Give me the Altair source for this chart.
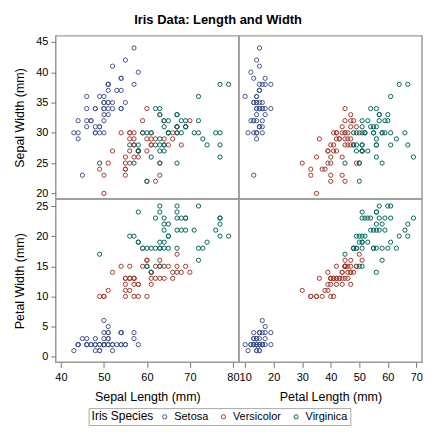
import altair as alt
import pandas as pd

species_names = ["Setosa", "Versicolor", "Virginica"]
species_colors = ["#445694", "#A23A2E", "#01665E"]

# Iris data (mm), 50 rows per species
setosa_sl = [51,49,47,46,50,54,46,50,44,49,54,48,48,43,58,57,54,51,57,51,54,51,46,51,48,50,50,52,52,47,48,54,52,55,49,50,55,49,44,51,50,45,44,50,51,48,51,46,53,50]
setosa_sw = [35,30,32,31,36,39,34,34,29,31,37,34,30,30,40,44,39,35,38,38,34,37,36,33,34,30,34,35,34,32,31,34,41,42,31,32,35,36,30,34,35,23,32,35,38,30,38,32,37,33]
setosa_pl = [14,14,13,15,14,17,14,15,14,15,15,16,14,11,12,15,13,14,17,15,17,15,10,17,19,16,16,15,14,16,16,15,15,14,15,12,13,14,13,15,13,13,13,16,19,14,16,14,15,14]
setosa_pw = [2,2,2,2,2,4,3,2,2,1,2,2,1,1,2,4,4,3,3,3,2,4,2,5,2,2,4,2,2,2,2,4,1,2,2,2,2,1,2,2,3,3,2,6,4,3,2,2,2,2]

versicolor_sl = [70,64,69,55,65,57,63,49,66,52,50,59,60,61,56,67,56,58,62,56,59,61,63,61,64,66,68,67,60,57,55,55,58,60,54,60,67,63,56,55,55,61,58,50,56,57,57,62,51,57]
versicolor_sw = [32,32,31,23,28,28,33,24,29,27,20,30,22,29,29,31,30,27,22,25,32,28,25,28,29,30,28,30,29,26,24,24,27,27,30,34,31,23,30,25,26,30,26,23,27,30,29,29,25,28]
versicolor_pl = [47,45,49,40,46,45,47,33,46,39,35,42,40,47,36,44,45,41,45,39,48,40,49,47,43,44,48,50,45,35,38,37,39,51,45,45,47,44,41,40,44,46,40,33,42,42,42,43,30,41]
versicolor_pw = [14,15,15,13,15,13,16,10,13,14,10,15,10,14,13,14,15,10,15,11,18,13,15,12,13,14,14,17,15,10,11,10,12,16,15,16,15,13,13,13,12,14,12,10,13,12,13,13,11,13]

virginica_sl = [63,58,71,63,65,76,49,73,67,72,65,64,68,57,58,64,65,77,77,60,69,56,77,63,67,72,62,61,64,72,74,79,64,63,61,77,63,64,60,69,67,69,58,68,67,67,63,65,62,59]
virginica_sw = [33,27,30,29,30,30,25,29,25,36,32,27,30,25,28,32,30,38,26,22,32,28,28,27,33,32,28,30,28,30,28,38,28,28,26,30,34,31,30,31,31,31,27,32,33,30,25,30,34,30]
virginica_pl = [60,51,59,56,58,66,45,63,58,61,51,53,55,50,51,53,55,67,69,50,57,49,67,49,57,60,48,49,56,58,61,64,56,51,56,61,56,55,48,54,56,51,51,59,57,52,50,52,54,51]
virginica_pw = [25,19,21,18,22,21,17,18,18,25,20,19,21,20,24,23,18,22,23,15,23,20,20,18,21,18,18,18,21,16,19,20,22,15,14,23,24,18,18,21,24,23,19,23,25,23,19,20,23,18]

sl_ticks = [40, 50, 60, 70, 80]
pl_ticks = [10, 20, 30, 40, 50, 60, 70]
sw_ticks = [20, 25, 30, 35, 40, 45]
pw_ticks = [0, 5, 10, 15, 20, 25]

rows = []
for name, sl, sw, pl, pw in [
    ("Setosa", setosa_sl, setosa_sw, setosa_pl, setosa_pw),
    ("Versicolor", versicolor_sl, versicolor_sw, versicolor_pl, versicolor_pw),
    ("Virginica", virginica_sl, virginica_sw, virginica_pl, virginica_pw),
]:
    for a, b, c, d in zip(sl, sw, pl, pw):
        rows.append({"Species": name, "SepalLength": a, "SepalWidth": b, "PetalLength": c, "PetalWidth": d})
df = pd.DataFrame(rows)

FONT = "Liberation Sans"
W, H = 184, 164

color = alt.Color(
    "Species:N",
    scale=alt.Scale(domain=species_names, range=species_colors),
    legend=alt.Legend(
        title="Iris Species",
        orient="none",
        legendX=33,
        legendY=374,
        direction="horizontal",
        titleOrient="left",
        titleFontWeight="normal",
        titleFontSize=12,
        titleFont=FONT,
        titleColor="#000",
        labelFont=FONT,
        labelFontSize=11,
        labelColor="#000",
        symbolType="circle",
        symbolSize=18,
        symbolStrokeWidth=1,
        symbolFillColor="transparent",
        strokeColor="#A8A8A8",
        padding=3,
        columnPadding=9,
    ),
)

def xenc(field, title, dom, ticks, show):
    if show:
        ax = alt.Axis(values=ticks, title=title, labelOverlap=False, labelFlush=False, labelBound=False)
    else:
        ax = None
    return alt.X(f"{field}:Q", scale=alt.Scale(domain=dom, nice=False, zero=False), axis=ax)

def yenc(field, title, dom, ticks, show):
    if show:
        ax = alt.Axis(values=ticks, title=title, labelOverlap=False, labelFlush=False, labelBound=False)
    else:
        ax = None
    return alt.Y(f"{field}:Q", scale=alt.Scale(domain=dom, nice=False, zero=False), axis=ax)

SL_DOM = [38.8, 81.4]
PL_DOM = [7.8, 72.0]
SW_DOM = [19.06, 46.0]
PW_DOM = [-0.94, 26.15]

def panel(xf, xt, xd, xtk, sx, yf, yt, yd, ytk, sy):
    return alt.Chart(df).mark_point(shape="circle", size=18, strokeWidth=1, filled=False, opacity=1).encode(
        x=xenc(xf, xt, xd, xtk, sx),
        y=yenc(yf, yt, yd, ytk, sy),
        color=color,
    ).properties(width=W, height=H)

tl = panel("SepalLength", "Sepal Length (mm)", SL_DOM, sl_ticks, False, "SepalWidth", "Sepal Width (mm)", SW_DOM, sw_ticks, True)
tr = panel("PetalLength", "Petal Length (mm)", PL_DOM, pl_ticks, False, "SepalWidth", "Sepal Width (mm)", SW_DOM, sw_ticks, False)
bl = panel("SepalLength", "Sepal Length (mm)", SL_DOM, sl_ticks, True, "PetalWidth", "Petal Width (mm)", PW_DOM, pw_ticks, True)
br = panel("PetalLength", "Petal Length (mm)", PL_DOM, pl_ticks, True, "PetalWidth", "Petal Width (mm)", PW_DOM, pw_ticks, False)

chart = alt.concat(
    tl, tr, bl, br,
    columns=2,
    spacing=0,
    bounds="flush",
).properties(
    title=alt.TitleParams("Iris Data: Length and Width", font=FONT, fontSize=13, fontWeight="bold", color="#000", anchor="middle", frame="bounds", offset=8),
    padding={"left": 5, "top": 5, "right": 5, "bottom": 5},
).configure_view(
    stroke="#9A9A9A", strokeWidth=1.5
).configure_axis(
    domain=False, grid=False, tickColor="#777777", tickSize=5,
    labelFont=FONT, labelFontSize=11, labelColor="#000", labelPadding=3,
    titleFont=FONT, titleFontSize=12.5, titleFontWeight="normal", titleColor="#000",
).configure_axisX(
    titlePadding=8, labelPadding=4
).configure_axisY(
    titlePadding=9
)

chart.save("out.html", embed_options={"renderer": "svg", "actions": False})
